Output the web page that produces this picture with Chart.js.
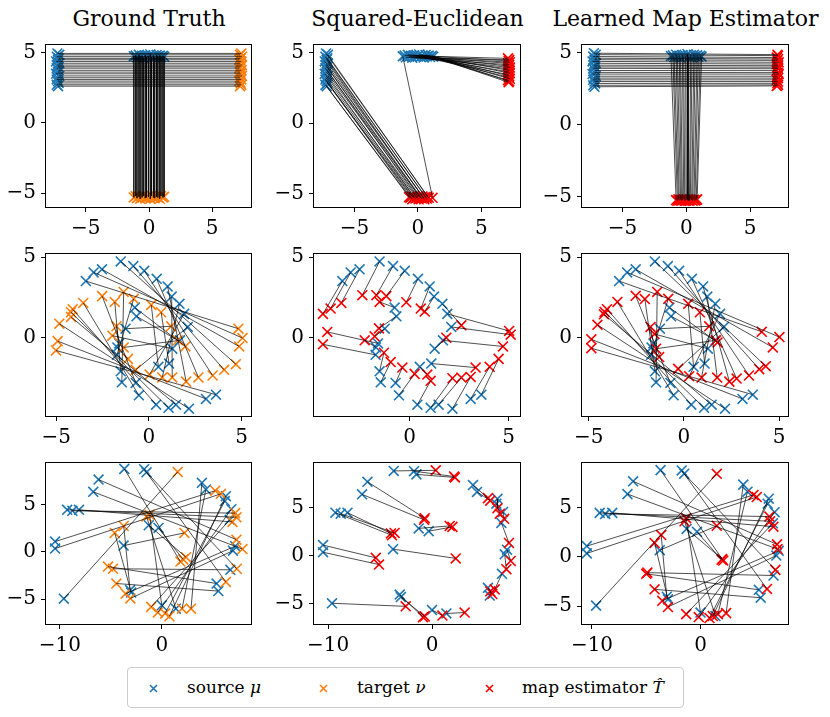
<!DOCTYPE html>
<html>
<head>
<meta charset="utf-8">
<script src="https://cdn.jsdelivr.net/npm/chart.js@4.4.1/dist/chart.umd.min.js"></script>
<style>
  html, body { margin: 0; padding: 0; background: #fff; }
  #fig { position: relative; width: 830px; height: 717px; font-family: 'DejaVu Serif', serif; color: #000; }
  #fig canvas { position: absolute; }
  .title { position: absolute; top: 6px; width: 300px; margin-left: -150px; font-size: 22px; line-height: 25px; text-align: center; white-space: nowrap; }
  #legend { position: absolute; left: 127px; top: 667px; width: 557px; height: 41px; border: 1px solid #cccccc; border-radius: 4px; box-sizing: border-box; }
  .lg { position: absolute; top: 8px; font-size: 17px; line-height: 22px; white-space: nowrap; }
  .lgm { position: absolute; top: 16px; }
</style>
</head>
<body>
<div id="fig">
  <div class="title" style="left:149px">Ground Truth</div>
  <div class="title" style="left:417.5px">Squared-Euclidean</div>
  <div class="title" style="left:685.5px">Learned Map Estimator</div>
  <div id="legend">
    <svg class="lgm" style="left:21px" width="9" height="9"><path d="M1 1L8 8M8 1L1 8" stroke="#1f77b4" stroke-width="1.6"/></svg>
    <span class="lg" style="left:59px">source <i>μ</i></span>
    <svg class="lgm" style="left:191px" width="9" height="9"><path d="M1 1L8 8M8 1L1 8" stroke="#ff7f0e" stroke-width="1.6"/></svg>
    <span class="lg" style="left:229px">target <i>ν</i></span>
    <svg class="lgm" style="left:357px" width="9" height="9"><path d="M1 1L8 8M8 1L1 8" stroke="#ff0000" stroke-width="1.6"/></svg>
    <span class="lg" style="left:394px">map estimator <i>T̂</i></span>
  </div>
</div>
<script>
const BLUE = '#1f77b4', ORANGE = '#ff7f0e', RED = '#ff0000';

// rangée 1 : forme en T
const tSource = [
  [-7.25,4.95],[-7.1,4.85],[-7.3,4.72],[-7.15,4.6],[-7.2,4.5],[-7.35,4.38],[-7.1,4.25],[-7.25,4.12],[-7.2,4.0],[-7.3,3.9],
  [-7.15,3.75],[-7.2,3.62],[-7.35,3.5],[-7.1,3.35],[-7.25,3.22],[-7.3,3.1],[-7.2,2.98],[-7.15,2.85],[-7.3,2.72],[-7.2,2.62],
  [-1.2,4.75],[-1.05,4.8],[-0.95,4.68],[-0.8,4.85],[-0.7,4.72],[-0.55,4.78],[-0.45,4.65],[-0.3,4.82],[-0.2,4.7],[-0.05,4.76],
  [0.1,4.88],[0.2,4.7],[0.35,4.8],[0.45,4.66],[0.6,4.84],[0.7,4.74],[0.85,4.8],[0.95,4.7],[1.1,4.78],[1.2,4.72]
];
const tTruth = [
  [7.3,4.95],[7.2,4.85],[7.35,4.72],[7.25,4.6],[7.15,4.5],[7.3,4.38],[7.2,4.25],[7.35,4.12],[7.25,4.0],[7.15,3.9],
  [7.3,3.75],[7.2,3.62],[7.25,3.5],[7.35,3.35],[7.2,3.22],[7.3,3.1],[7.15,2.98],[7.25,2.85],[7.3,2.72],[7.2,2.62],
  [-1.2,-5.3],[-1.05,-5.2],[-0.95,-5.35],[-0.8,-5.25],[-0.7,-5.4],[-0.55,-5.3],[-0.45,-5.2],[-0.3,-5.35],[-0.2,-5.3],[-0.05,-5.25],
  [0.1,-5.4],[0.2,-5.2],[0.35,-5.3],[0.45,-5.35],[0.6,-5.25],[0.7,-5.3],[0.85,-5.4],[0.95,-5.2],[1.1,-5.3],[1.2,-5.25]
];
const tSqEuc = [
  [0.85,-5.3],[0.75,-5.2],[0.7,-5.35],[0.6,-5.25],[0.5,-5.4],[0.45,-5.3],[0.35,-5.2],[0.3,-5.35],[0.2,-5.3],[0.15,-5.25],
  [0.05,-5.4],[0.0,-5.2],[-0.1,-5.3],[-0.2,-5.35],[-0.3,-5.25],[-0.35,-5.3],[-0.45,-5.4],[-0.5,-5.2],[-0.6,-5.3],[-0.7,-5.25],
  [1.15,-5.3],[7.1,4.6],[7.2,4.5],[7.15,4.42],[7.25,4.33],[7.1,4.25],[7.2,4.15],[7.15,4.05],[7.25,3.95],[7.1,3.85],
  [7.2,3.75],[7.15,3.65],[7.25,3.55],[7.1,3.45],[7.2,3.35],[7.15,3.25],[7.25,3.15],[7.1,3.05],[7.2,2.97],[7.15,2.9]
];
const tLearned = [
  [7.15,4.85],[7.2,4.78],[7.1,4.65],[7.2,4.55],[7.15,4.45],[7.25,4.32],[7.1,4.2],[7.2,4.08],[7.15,3.98],[7.2,3.87],
  [7.1,3.74],[7.2,3.6],[7.25,3.5],[7.15,3.35],[7.2,3.22],[7.1,3.1],[7.2,2.98],[7.15,2.86],[7.2,2.75],[7.1,2.68],
  [-0.8,-5.25],[-0.7,-5.3],[-0.62,-5.2],[-0.55,-5.28],[-0.45,-5.22],[-0.38,-5.3],[-0.3,-5.25],[-0.2,-5.2],[-0.12,-5.3],[-0.02,-5.25],
  [0.08,-5.22],[0.15,-5.28],[0.25,-5.3],[0.32,-5.2],[0.42,-5.25],[0.5,-5.3],[0.6,-5.22],[0.68,-5.28],[0.78,-5.25],[0.85,-5.2]
];

// rangée 2 : anneau
const sSource = [
  [-3.40,3.51],[-2.98,4.05],[-2.53,4.24],[-1.52,4.73],[-0.84,4.44],[-0.25,4.15],[0.42,3.65],[1.01,3.18],[1.23,2.55],[1.65,2.10],
  [1.90,1.48],[2.10,0.67],[3.62,-3.53],[3.08,-3.79],[2.16,-4.40],[1.46,-4.15],[1.06,-4.34],[0.39,-4.15],[-0.54,-3.57],[-0.71,-2.80],
  [-1.46,-2.76],[-1.52,-2.08],[-1.72,-1.06],[0.51,-1.80],[1.09,-1.60],[-0.76,1.87],[-0.67,1.33],[-1.26,0.56],[1.68,-0.16],[-1.60,-0.35],
  [1.26,-0.68],[-1.7,-0.6]
];
const sTruth = [
  [4.83,0.56],[5.05,-0.02],[4.87,-0.54],[4.69,-1.64],[4.06,-1.99],[3.44,-2.34],[2.67,-2.46],[2.01,-2.72],[1.26,-2.46],[0.72,-2.46],
  [0.04,-2.28],[-0.71,-1.99],[-5.01,-0.79],[-4.92,-0.21],[-4.83,0.87],[-4.2,1.29],[-4.2,1.58],[-4.11,1.77],[-3.54,2.16],[-2.52,2.58],
  [-1.36,2.84],[-1.84,2.22],[-0.82,2.41],[0.13,2.03],[0.66,1.58],[1.97,-0.54],[1.56,-0.16],[1.20,0.71],[-1.36,-0.60],[-1.75,0.71],
  [-1.97,0.13],[-1.13,-1.31]
];
const sSqEuc = [
  [-4.38,1.48],[-3.99,1.81],[-3.45,2.16],[-2.39,2.64],[-1.68,2.64],[-1.18,2.58],[-0.17,2.20],[0.56,1.81],[0.76,1.62],[2.61,0.77],
  [5.02,0.42],[5.10,0.19],[4.49,-1.31],[4.04,-1.80],[3.08,-2.43],[2.61,-2.47],[2.16,-2.51],[1.06,-2.67],[0.25,-2.24],[-0.37,-1.85],
  [-0.96,-1.51],[-1.30,-0.93],[-4.38,-0.41],[0.89,-2.28],[3.33,-1.85],[-1.52,2.22],[-1.55,0.58],[-1.77,0.09],[4.71,-0.54],[-4.16,0.36],
  [1.85,0.0],[-2.27,-0.16]
];
const sLearned = [
  [4.09,0.37],[5.02,0.04],[4.67,-0.60],[4.30,-1.76],[3.96,-1.95],[3.42,-2.34],[2.77,-2.53],[2.39,-2.72],[1.75,-2.47],[0.93,-2.47],
  [0.28,-2.38],[-0.3,-1.93],[-4.86,-0.65],[-4.86,-0.1],[-4.54,0.8],[-4.2,1.45],[-4.16,1.6],[-4.04,1.77],[-3.49,2.22],[-2.53,2.6],
  [-1.40,2.84],[-2.05,2.4],[-0.82,2.41],[0.23,2.1],[0.84,1.58],[1.77,-0.29],[1.68,-0.16],[1.33,0.71],[-1.46,-0.68],[-1.75,0.67],
  [-1.54,0.23],[-1.3,-1.2]
];

// rangée 3 : cercle
const cSource = [
  [-3.68,8.78],[-1.73,8.75],[-1.5,8.42],[-6.21,7.65],[-6.73,6.35],[-9.29,4.45],[-8.78,4.35],[-8.13,4.45],[-10.48,1.09],[-10.48,0.35],
  [-3.75,0.67],[-1.28,2.82],[-0.32,2.53],[-9.62,-4.94],[-3.11,-4.04],[-3.0,-4.3],[0.0,-5.64],[1.38,-6.0],[3.94,7.31],[4.33,6.6],
  [6.29,5.89],[6.19,5.38],[6.83,4.52],[6.67,3.39],[7.21,0.61],[6.99,0.13],[6.73,-1.89],[5.38,-3.34],[5.55,-4.14]
];
const cTruth = [
  [1.83,-1.02],[6.29,-3.17],[7.36,-1.78],[7.33,1.29],[7.92,0.3],[7.33,3.66],[7.2,4.1],[6.94,3.17],[5.25,6.47],[5.8,6.14],
  [2.22,2.01],[2.38,-0.56],[2.1,-0.8],[1.56,8.45],[-3.74,2.74],[-4.62,2.01],[-1.2,3.93],[-1.5,3.75],[2.87,-6.0],[1.99,-6.0],
  [0.75,-6.8],[0.33,-6.5],[-0.39,-6.4],[-1.04,-5.81],[-3.55,-4.42],[-3.09,-4.92],[-4.79,-1.78],[-5.28,-1.55],[-4.46,-3.34]
];
const cSqEuc = [
  [0.36,8.84],[2.12,8.2],[2.2,8.1],[-0.70,3.88],[-0.76,3.71],[-3.85,2.1],[-3.6,2.35],[-3.95,2.3],[-5.41,-0.23],[-5.1,-0.93],
  [2.28,-0.29],[1.7,3.08],[1.96,2.98],[-2.53,-5.26],[-0.87,-6.38],[-0.7,-6.3],[1.0,-6.22],[3.14,-5.9],[5.38,5.96],[5.6,5.7],
  [6.29,4.9],[6.52,4.35],[6.94,3.81],[7.4,1.31],[7.57,-0.55],[7.15,-1.41],[6.03,-3.5],[5.8,-3.98],[5.6,-3.7]
];
const cLearned = [
  [2.1,-0.38],[6.13,-3.25],[6.9,-1.32],[7.05,1.26],[7.1,0.79],[6.41,3.6],[6.35,4.08],[6.72,3.05],[4.88,6.27],[5.18,6.05],
  [1.5,3.14],[2.0,-0.22],[1.95,-0.3],[1.5,8.41],[-3.62,2.2],[-4.23,1.41],[-1.32,3.92],[-1.47,3.6],[2.36,-5.7],[1.6,-5.8],
  [1.13,-6.0],[0.83,-6.2],[-0.16,-6.1],[-1.32,-5.8],[-3.52,-4.45],[-3.0,-5.08],[-4.9,-1.6],[-5.0,-1.72],[-4.23,-3.29]
];

const ticksFive = [-5, 0, 5];
const ticksPos = [0, 5];
const ticksTen = [-10, 0];

const fig = document.getElementById('fig');
Chart.defaults.font.family = "'DejaVu Serif', serif";
Chart.defaults.font.size = 20;

// cadre complet autour de la zone de tracé
const frame = {
  id: 'frame',
  afterDraw(chart) {
    const { ctx, chartArea: a } = chart;
    ctx.save();
    ctx.strokeStyle = '#000';
    ctx.lineWidth = 1;
    ctx.strokeRect(Math.round(a.left) - 0.5, Math.round(a.top) - 0.5, Math.round(a.width) + 1, Math.round(a.height) + 1);
    ctx.restore();
  }
};

function axis(pos, range, ticks, size) {
  return {
    type: 'linear',
    position: pos,
    min: range[0],
    max: range[1],
    afterBuildTicks: s => { s.ticks = ticks.map(v => ({ value: v })); },
    afterFit: s => { if (pos === 'left') s.width = size; else s.height = size; },
    grid: { display: true, drawOnChartArea: false, drawTicks: true, tickLength: 5, color: '#000', lineWidth: 1 },
    border: { display: false },
    ticks: {
      color: '#000',
      font: { family: "'DejaVu Serif', serif", size: 20 },
      padding: pos === 'left' ? 5 : 5,
      maxRotation: 0,
      autoSkip: false,
      callback: v => (v < 0 ? '\u2212' + Math.abs(v) : String(v))
    }
  };
}

function pts(list) {
  return list.map(p => ({ x: p[0], y: p[1] }));
}

function panel(box, xr, yr, xt, yt, src, dst, dstColor) {
  const YW = 46, XH = 36, PT = 6, PR = 8;
  const w = YW + box[2] - box[0] + PR;
  const h = PT + box[3] - box[1] + XH;
  const cv = document.createElement('canvas');
  cv.width = w; cv.height = h;
  cv.style.left = (box[0] - YW) + 'px';
  cv.style.top = (box[1] - PT) + 'px';
  cv.style.width = w + 'px';
  cv.style.height = h + 'px';
  fig.appendChild(cv);

  // segments source -> image, séparés par des trous
  const links = [];
  src.forEach((p, i) => {
    links.push({ x: p[0], y: p[1] }, { x: dst[i][0], y: dst[i][1] }, { x: null, y: null });
  });

  new Chart(cv, {
    type: 'scatter',
    data: {
      datasets: [
        { data: links, showLine: true, spanGaps: false, borderColor: 'rgba(0,0,0,0.92)', borderWidth: 0.75, pointRadius: 0, order: 0 },
        { data: pts(dst), pointStyle: 'crossRot', pointRadius: 7, borderColor: dstColor, borderWidth: 1.6, order: 1 },
        { data: pts(src), pointStyle: 'crossRot', pointRadius: 7, borderColor: BLUE, borderWidth: 1.6, order: 2 }
      ]
    },
    options: {
      responsive: false,
      animation: false,
      events: [],
      layout: { padding: { top: PT, right: PR, left: 0, bottom: 0 } },
      plugins: { legend: { display: false }, tooltip: { enabled: false } },
      scales: {
        x: axis('bottom', xr, xt, XH),
        y: axis('left', yr, yt, YW)
      }
    },
    plugins: [frame]
  });
}

// colonnes et rangées (zone de tracé en pixels)
const col1 = [46, 252], col2 = [314, 521], col3 = [582, 789];
const row1 = [34, 207], row2 = [243, 416], row3 = [452, 624];
const bx = (c, r) => [c[0], r[0], c[1], r[1]];

panel(bx(col1, row1), [-8.15, 8.1], [-5.98, 5.55], ticksFive, ticksFive, tSource, tTruth, ORANGE);
panel(bx(col2, row1), [-8.2, 8.08], [-5.95, 5.55], ticksFive, ticksFive, tSource, tSqEuc, RED);
panel(bx(col3, row1), [-8.18, 8.01], [-5.73, 5.52], ticksFive, ticksFive, tSource, tLearned, RED);

panel(bx(col1, row2), [-5.55, 5.53], [-4.85, 5.19], ticksFive, ticksPos, sSource, sTruth, ORANGE);
panel(bx(col2, row2), [-4.83, 5.59], [-4.85, 5.19], ticksPos, ticksPos, sSource, sSqEuc, RED);
panel(bx(col3, row2), [-5.35, 5.49], [-4.85, 5.19], ticksFive, ticksPos, sSource, sLearned, RED);

panel(bx(col1, row3), [-11.37, 8.8], [-7.62, 9.4], ticksTen, ticksFive, cSource, cTruth, ORANGE);
panel(bx(col2, row3), [-11.35, 8.5], [-7.09, 9.6], ticksTen, ticksFive, cSource, cSqEuc, RED);
panel(bx(col3, row3), [-10.92, 8.1], [-6.8, 9.5], ticksTen, ticksFive, cSource, cLearned, RED);
</script>
</body>
</html>
